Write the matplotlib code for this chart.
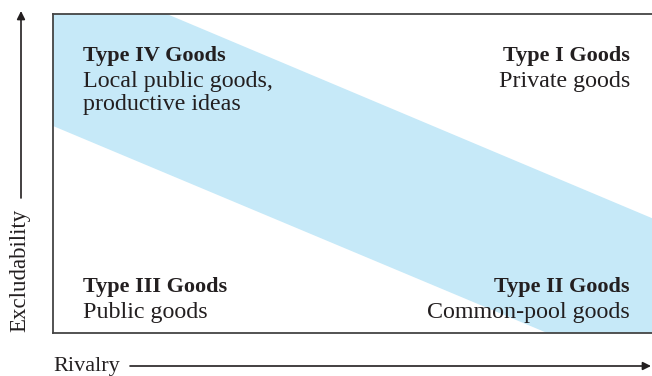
import matplotlib.pyplot as plt
from matplotlib.patches import Polygon

# band of goods (rivalry, excludability), both on 0..1
band_x = [0.0, 0.19, 1.0, 1.0, 0.825, 0.0]
band_y = [1.0, 1.0, 0.36, 0.0, 0.0, 0.649]

titles = ["Type IV Goods", "Type I Goods", "Type III Goods", "Type II Goods"]
subtitles = [["Local public goods,", "productive ideas"], ["Private goods"],
             ["Public goods"], ["Common-pool goods"]]
label_x = [0.05, 0.963, 0.05, 0.963]
label_y = [0.853, 0.853, 0.1285, 0.1285]
label_ha = ["left", "right", "left", "right"]

plt.rcParams['font.family'] = ['Liberation Serif', 'DejaVu Serif']
W, H = 652, 376
FS = 16
FS_SUB = 17.3
INK = '#231f20'
fig = plt.figure(figsize=(W / 100, H / 100), dpi=100)
ax = fig.add_axes([53 / W, 1 - 333 / H, 1 - 53 / W, (333 - 14) / H])
ax.set_xlim(0, 1)
ax.set_ylim(0, 1)
ax.set_xticks([])
ax.set_yticks([])
for s in ['left', 'top', 'bottom']:
    ax.spines[s].set_color('#444444')
    ax.spines[s].set_linewidth(1.3)
ax.spines['right'].set_visible(False)

ax.add_patch(Polygon(list(zip(band_x, band_y)), closed=True,
                     facecolor='#c6e9f8', edgecolor='none'))

px = 1 / 319  # one pixel in axes height
for t, sub, x, y, ha in zip(titles, subtitles, label_x, label_y, label_ha):
    ax.text(x, y, t, ha=ha, va='baseline', fontsize=FS, fontweight='bold', color=INK)
    for i, line in enumerate(sub):
        ax.text(x, y - (26 + 23 * i) * px, line, ha=ha, va='baseline', fontsize=FS_SUB, color=INK)

# axis arrows drawn in figure fraction
fig.text(20 / W, 1 - 270 / H, "Excludability", rotation=90, ha='center', va='center',
         fontsize=16.5, color=INK)
fig.add_artist(plt.Annotation("", xy=(21 / W, 1 - 11 / H), xytext=(21 / W, 1 - 198 / H),
                              xycoords='figure fraction', textcoords='figure fraction',
                              arrowprops=dict(arrowstyle='-|>', color=INK, lw=1.2,
                                              mutation_scale=12, shrinkA=0, shrinkB=0)))
fig.text(53 / W, 1 - 366 / H, "Rivalry", ha='left', va='center',
         fontsize=16, color=INK)
fig.add_artist(plt.Annotation("", xy=(651 / W, 1 - 366 / H), xytext=(130 / W, 1 - 366 / H),
                              xycoords='figure fraction', textcoords='figure fraction',
                              arrowprops=dict(arrowstyle='-|>', color=INK, lw=1.2,
                                              mutation_scale=12, shrinkA=0, shrinkB=0)))

fig.savefig('out.png', dpi=100)
